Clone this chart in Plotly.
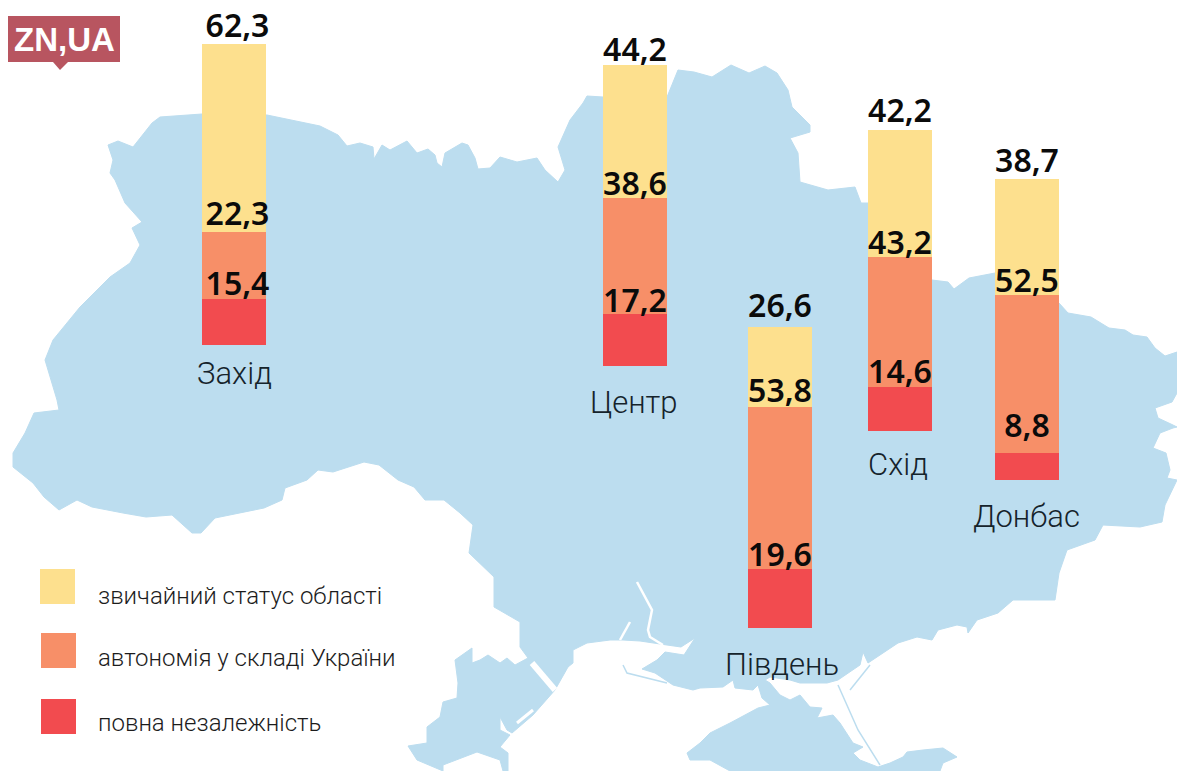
import plotly.graph_objects as go

# ---------- data ----------
regions = ["Захід", "Центр", "Південь", "Схід", "Донбас"]
ordinary = [62.3, 44.2, 26.6, 42.2, 38.7]      # звичайний статус області
autonomy = [22.3, 38.6, 53.8, 43.2, 52.5]      # автономія у складі України
independent = [15.4, 17.2, 19.6, 14.6, 8.8]    # повна незалежність
series_names = ["звичайний статус області", "автономія у складі України", "повна незалежність"]

# placement of the floating columns on the map
bar_x = [234, 635, 780, 900, 1027]
text_x = [237.5, 635, 780, 900, 1027]
bar_base = [141.5, 134.6, 47.5, 113.0, 96.7]
label_x = [234, 634, 782, 898, 1026]
label_y = [373, 402, 664, 464, 516]
# vertical nudges of the value labels (in px, + = up)
nudge_ordinary = [-1, -4, 2, 0, -1]
nudge_autonomy = [-1, -5, -3, -5, -5]
nudge_independent = [-4, -6, -5, -4, 8]

# map background outline
map_pts = [
 (108,145),(118,141),(133,147),(152,123),(160,117),(202,114),(267,115),(290,120),(320,126),(338,135),(347,146),
 (360,143),(373,147),(374,159),(382,145),(390,150),(407,141),(417,153),(428,149),(435,155),(437,163),(442,167),
 (445,153),(462,143),(468,145),(475,158),(478,169),(490,168),(500,157),(517,162),(537,158),(545,170),(558,182),
 (565,170),(558,147),(570,120),(583,103),(587,96),(603,97),(667,97),(678,70),(694,72),(712,77),(731,65),(749,73),
 (765,66),(777,73),(788,90),(792,107),(810,125),(810,132),(790,138),(798,153),(800,182),(828,190),(855,187),
 (861,203),(869,203),(932,280),(948,282),(954,289),(969,278),(995,273),(1059,303),(1068,313),(1091,317),(1109,328),
 (1125,330),(1133,335),(1147,337),(1155,348),(1165,356),(1177,352),(1177,393),(1172,402),(1155,408),(1158,418),
 (1173,425),(1177,427),(1173,428),(1160,433),(1153,448),(1166,453),(1170,470),(1167,478),(1177,480),(1165,505),
 (1162,522),(1140,527),(1103,525),(1095,540),(1067,550),(1059,573),(1055,600),(1013,600),(998,613),(977,620),
 (968,633),(967,627),(957,625),(938,630),(932,640),(917,637),(898,643),(880,655),(868,663),(863,652),(860,665),
 (838,680),(827,683),(817,683),(800,683),(790,680),(770,677),(765,680),(770,683),(780,695),(790,700),(800,695),
 (810,707),(822,708),(817,718),(833,715),(840,723),(853,743),(863,747),(853,753),(860,760),(878,767),(890,763),
 (903,757),(907,752),(923,750),(943,748),(957,757),(943,763),(940,771),(730,771),(710,760),(690,760),(687,753),
 (700,743),(710,733),(730,723),(758,708),(770,705),(762,698),(758,685),(753,690),(735,688),(733,680),(723,687),
 (700,688),(693,690),(673,685),(655,673),(642,669),(657,660),(665,652),(684,655),(695,638),(681,647),(667,645),
 (640,641),(623,640),(610,640),(587,643),(573,650),(573,663),(568,667),(555,690),(533,715),(512,733),(507,730),
 (500,717),(500,730),(510,735),(500,747),(508,753),(508,771),(503,771),(500,760),(477,752),(443,765),(443,771),
 (417,760),(408,746),(427,743),(427,727),(440,717),(443,702),(457,698),(458,683),(455,660),(472,648),(472,663),
 (480,660),(488,655),(500,663),(507,658),(515,665),(528,658),(520,647),(520,622),(494,607),(494,577),(469,553),
 (473,525),(460,513),(444,500),(425,500),(414,487),(398,480),(379,465),(364,462),(333,472),(318,470),(307,480),
 (285,488),(282,500),(264,508),(215,518),(201,533),(192,533),(172,515),(146,517),(123,513),(92,507),(77,500),
 (59,510),(44,497),(33,483),(13,467),(13,453),(25,433),(34,413),(59,410),(57,400),(45,360),(53,340),(80,307),
 (110,277),(130,263),(140,245),(132,228),(142,222),(125,203),(115,180),(110,173),(113,160),(108,145),
]
map_x = [p[0] for p in map_pts]
map_y = [p[1] for p in map_pts]
white_lines = [
 ([637,645,652,648,650,663], [582,597,610,630,637,645], 2.5),
 ([620,630], [640,622], 2.5),
 ([532,543,555], [663,675,690], 6),
 ([517,533], [723,710], 3),
]
blue_lines = [
 ([623,627,667], [665,673,683], 1.5),
 ([838,858,880], [685,730,765], 1.5),
 ([850,870], [690,665], 1.5),
]

# ---------- style ----------
C_MAP = "#BCDDEF"
C_Y, C_O, C_R = "#FDE08E", "#F78F68", "#F24B4F"
PX_PER_UNIT = 3.01
W, H = 1177, 771
BAR_W = 64

fig = go.Figure()

fig.add_trace(go.Scatter(x=map_x, y=map_y, mode="lines", fill="toself", fillcolor=C_MAP,
                         line=dict(color=C_MAP, width=1), hoverinfo="skip", showlegend=False))
for xs, ys, wd in white_lines:
    fig.add_trace(go.Scatter(x=xs, y=ys, mode="lines", line=dict(color="white", width=wd),
                             hoverinfo="skip", showlegend=False))
for xs, ys, wd in blue_lines:
    fig.add_trace(go.Scatter(x=xs, y=ys, mode="lines", line=dict(color=C_MAP, width=wd),
                             hoverinfo="skip", showlegend=False))

base_r = bar_base
base_o = [b + v for b, v in zip(base_r, independent)]
base_y = [b + v for b, v in zip(base_o, autonomy)]
for vals, bases, col, name, nudges in [(independent, base_r, C_R, series_names[2], nudge_independent),
                                       (autonomy, base_o, C_O, series_names[1], nudge_autonomy),
                                       (ordinary, base_y, C_Y, series_names[0], nudge_ordinary)]:
    fig.add_trace(go.Bar(x=bar_x, y=vals, base=bases, width=BAR_W, marker=dict(color=col, line=dict(width=0)),
                         name=name, yaxis="y2", showlegend=False))
    tops = [b + v + n / PX_PER_UNIT for b, v, n in zip(bases, vals, nudges)]
    fig.add_trace(go.Scatter(x=text_x, y=tops, yaxis="y2", mode="text",
                             text=[f"{v:.1f}".replace(".", ",") for v in vals],
                             textposition="top center",
                             textfont=dict(family="Noto Sans", size=32, color="#0b0b0b", weight=600),
                             hoverinfo="skip", showlegend=False))

ann = []
for r, lx, ly in zip(regions, label_x, label_y):
    ann.append(dict(x=lx, y=ly, xref="x", yref="y", text=r, showarrow=False, xanchor="center", yanchor="middle",
                    font=dict(family="Roboto", size=31, color="#15232b", weight=300)))

shapes = []
leg_boxes = [(40, 569, 75, 604, C_Y), (41, 633, 76, 668, C_O), (41, 699, 76, 734, C_R)]
leg_text_y = [596, 658, 723]
for (x0, y0, x1, y1, c), name, ty in zip(leg_boxes, series_names, leg_text_y):
    shapes.append(dict(type="rect", xref="x", yref="y", x0=x0, x1=x1, y0=y0, y1=y1,
                       fillcolor=c, line=dict(width=0), layer="above"))
    ann.append(dict(x=96, y=ty, xref="x", yref="y", text=name, showarrow=False, xanchor="left", yanchor="middle",
                    font=dict(family="Roboto", size=24, color="#1c1c1c", weight=300)))

shapes.append(dict(type="rect", xref="x", yref="y", x0=8, x1=120, y0=16, y1=62,
                   fillcolor="#B85560", line=dict(width=0), layer="above"))
shapes.append(dict(type="path", xref="x", yref="y", path="M 53 62 L 68 62 L 60 70 Z",
                   fillcolor="#B85560", line=dict(width=0), layer="above"))
ann.append(dict(x=64, y=39, xref="x", yref="y", text="ZN,UA", showarrow=False, xanchor="center", yanchor="middle",
                font=dict(family="Liberation Sans", size=33, color="white", weight=700)))

fig.update_layout(
    width=W, height=H, margin=dict(l=0, r=0, t=0, b=0),
    paper_bgcolor="white", plot_bgcolor="white", barmode="overlay", bargap=0,
    xaxis=dict(range=[0, W], visible=False, fixedrange=True),
    yaxis=dict(range=[H, 0], visible=False, fixedrange=True),
    yaxis2=dict(range=[0, H / PX_PER_UNIT], overlaying="y", visible=False, fixedrange=True),
    shapes=shapes, annotations=ann, showlegend=False,
)
fig.write_html("out.html", post_script="document.body.style.margin='0';", config={"displayModeBar": False})
